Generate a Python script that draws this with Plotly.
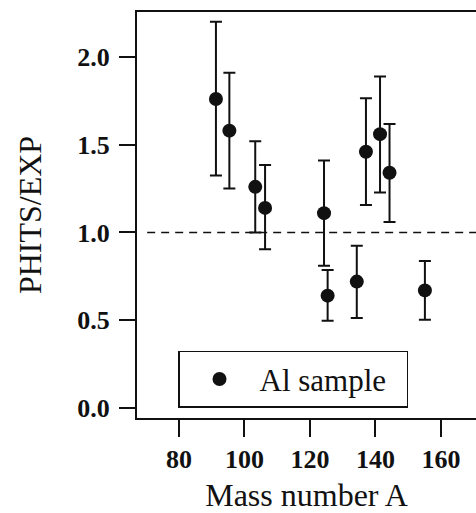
import plotly.graph_objects as go

# Mass number A vs PHITS/EXP ratio (Al sample)
mass_number = [91.3, 95.4, 103.3, 106.3, 124.3, 125.4, 134.3, 137.1, 141.4, 144.3, 155.1]
ratio = [1.76, 1.58, 1.26, 1.14, 1.11, 0.64, 0.72, 1.46, 1.56, 1.34, 0.67]
err_upper = [2.20, 1.91, 1.52, 1.385, 1.41, 0.786, 0.925, 1.765, 1.888, 1.618, 0.838]
err_lower = [1.324, 1.25, 1.0, 0.904, 0.811, 0.497, 0.513, 1.157, 1.227, 1.06, 0.503]

x_ticks = [80, 100, 120, 140, 160]
y_ticks = [0.0, 0.5, 1.0, 1.5, 2.0]
reference_level = 1.0

SERIF = "Liberation Serif"
INK = "#111111"

plus = [u - r for u, r in zip(err_upper, ratio)]
minus = [r - lo for r, lo in zip(ratio, err_lower)]

fig = go.Figure()

fig.add_hline(
    y=reference_level,
    line=dict(color=INK, width=1.5, dash="8px,6px"),
    x0=0.03, x1=1,
)

fig.add_trace(go.Scatter(
    x=mass_number, y=ratio,
    mode="markers",
    marker=dict(size=14, color=INK),
    error_y=dict(
        type="data", symmetric=False,
        array=plus, arrayminus=minus,
        color=INK, thickness=2, width=6,
    ),
    name="Al sample",
))

fig.update_layout(
    width=476, height=513,
    margin=dict(l=137, r=0, t=12, b=95, autoexpand=False),
    paper_bgcolor="white",
    plot_bgcolor="white",
    font=dict(family=SERIF, color=INK),
    showlegend=True,
    legend=dict(
        orientation="h",
        x=0.121, y=0.025, xanchor="left", yanchor="bottom",
        bordercolor=INK, borderwidth=1.5,
        bgcolor="white",
        font=dict(family=SERIF, size=31, color=INK),
        itemwidth=70,
        entrywidth=142,
    ),
    xaxis=dict(
        range=[67.2, 170.7],
        tickvals=x_ticks,
        ticks="outside", ticklen=17, tickwidth=1.5, tickcolor=INK,
        ticklabelstandoff=0,
        showline=True, linewidth=2, linecolor=INK, mirror=True,
        showgrid=False, zeroline=False, automargin=False,
        tickfont=dict(family=SERIF, size=26, weight="bold"),
        title=dict(text="Mass number A", font=dict(family=SERIF, size=32), standoff=18),
    ),
    yaxis=dict(
        range=[-0.057, 2.256],
        tickvals=y_ticks,
        tickformat=".1f",
        ticks="outside", ticklen=16, tickwidth=1.5, tickcolor=INK,
        ticklabelstandoff=4,
        showline=True, linewidth=2, linecolor=INK,
        showgrid=False, zeroline=False, automargin=False,
        tickfont=dict(family=SERIF, size=26, weight="bold"),
        title=dict(text="PHITS/EXP", font=dict(family=SERIF, size=32), standoff=26),
    ),
)

# drop the browser's default body margin so the figure fills the window
fig.write_html(
    "out.html",
    config={"displayModeBar": False},
    post_script="document.body.style.margin = '0';",
)
